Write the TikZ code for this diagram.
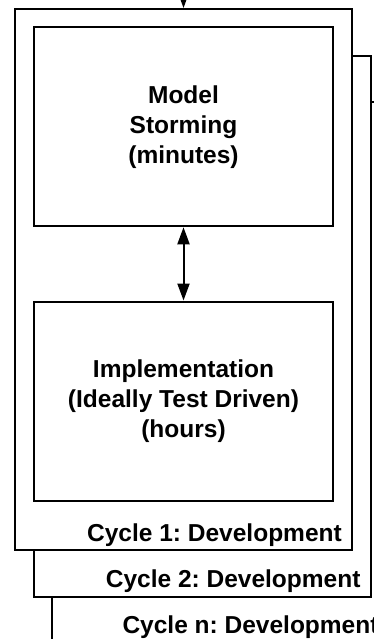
\documentclass[tikz,border=0pt]{standalone}
\usepackage{fontspec}
\setmainfont{Liberation Sans}
\usetikzlibrary{arrows.meta}

\tikzset{
  frame/.style={draw, fill=white, line width=2pt, minimum width=337pt, minimum height=541pt, inner sep=0pt},
  phase/.style={draw, fill=white, line width=2pt, minimum width=299pt, minimum height=199pt,
                align=center, inner sep=0pt, font=\frenchspacing\bfseries\fontsize{24.5}{30}\selectfont},
  cyclelabel/.style={anchor=base east, inner sep=0pt, font=\frenchspacing\bfseries\fontsize{24.5}{30}\selectfont},
  flow/.style={line width=2pt, -{Triangle[length=17pt,width=12pt]}},
  twoway/.style={line width=2pt, {Triangle[length=17pt,width=12pt]}-{Triangle[length=17pt,width=12pt]}}
}

\begin{document}
\begin{tikzpicture}[x=1pt, y=-1pt]
  \clip (0,0) rectangle (374,639);

  % stacked development cycles, back to front
  \node[frame] (cycn) at (220.5,372.5) {};
  \node[frame] (cyc2) at (202.5,326.5) {};
  \node[frame] (cyc1) at (183.8,279.5) {};

  % activities inside the first cycle
  \node[phase] (storm) at (183.5,126.8) {Model\\Storming\\(minutes)};
  \node[phase] (impl) at (183.5,401) {Implementation\\(Ideally Test Driven)\\(hours)};

  % cycle captions
  \node[cyclelabel] (lab1) at (342,541.5) {Cycle 1: Development};
  \node[cyclelabel] (lab2) at (360.7,587.7) {Cycle 2: Development};
  \node[cyclelabel] (labn) at (378.7,633) {Cycle n: Development};

  % incoming flow and iteration between activities
  \coordinate (entry) at (183.5,-20);
  \draw[flow] (entry) -- (entry |- cyc1.north);
  \draw[twoway] (storm.south) -- (impl.north);
\end{tikzpicture}
\end{document}
